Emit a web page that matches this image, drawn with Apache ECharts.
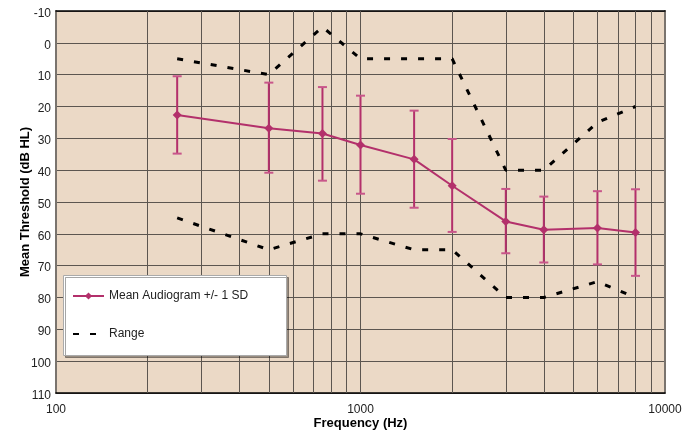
<!DOCTYPE html>
<html>
<head>
<meta charset="utf-8">
<script src="https://cdn.jsdelivr.net/npm/echarts@6/dist/echarts.min.js"></script>
<style>html,body{margin:0;padding:0;background:#fff}#c{width:696px;height:431px}</style>
</head>
<body>
<div id="c"></div>
<script>
// Data
const frequencies = [250, 500, 750, 1000, 1500, 2000, 3000, 4000, 6000, 8000];
const meanThreshold = [22.7, 26.8, 28.5, 32.1, 36.6, 44.9, 56.1, 58.7, 58.2, 59.6];
const sdUpperEdge = [10.5, 12.5, 13.9, 16.6, 21.3, 30.2, 45.9, 48.3, 46.6, 46.0];
const sdLowerEdge = [34.8, 40.8, 43.3, 47.4, 51.8, 59.4, 66.1, 69.0, 69.6, 73.2];
const rangeBest = [5, 10, -5, 5, 5, 5, 40, 40, 25, 20];
const rangeWorst = [55, 65, 60, 60, 65, 65, 80, 80, 75, 80];
const gridFrequencies = [200, 300, 400, 500, 600, 700, 800, 900, 1000, 2000, 3000, 4000, 5000, 6000, 7000, 8000, 9000];
const seriesNames = ['Mean Audiogram +/- 1 SD', 'Range'];

const FONT = "'Liberation Sans', Arial, sans-serif";
const MEAN_COLOR = '#b3306b';
const CAP_COLOR = '#c8568a';
const GRID_COLOR = '#5c5650';

const meanData = frequencies.map((f, i) => [f, meanThreshold[i]]);
const errData = frequencies.map((f, i) => [f, sdUpperEdge[i], sdLowerEdge[i]]);
const bestData = frequencies.map((f, i) => [f, rangeBest[i]]);
const worstData = frequencies.map((f, i) => [f, rangeWorst[i]]);

const chart = echarts.init(document.getElementById('c'), null, {renderer: 'canvas'});
chart.setOption({
  animation: false,
  backgroundColor: '#ffffff',
  textStyle: {fontFamily: FONT},
  grid: {left: 56, top: 11, right: 31, bottom: 38, show: true, backgroundColor: '#ebd9c6', borderWidth: 0, outerBoundsMode: 'none', containLabel: false},
  xAxis: [{
    type: 'log', logBase: 10, min: 100, max: 10000,
    axisLine: {show: true, onZero: false, lineStyle: {color: '#000', width: 1.5}},
    axisTick: {show: false},
    splitLine: {show: false},
    axisLabel: {color: '#222', fontSize: 12, fontFamily: FONT, margin: 11, formatter: v => String(Math.round(v))},
    name: 'Frequency (Hz)', nameLocation: 'middle', nameGap: 24, nameMoveOverlap: false,
    nameTextStyle: {color: '#000', fontSize: 13, fontWeight: 'bold', fontFamily: FONT}
  }, {
    type: 'log', logBase: 10, min: 100, max: 10000, position: 'top',
    axisLine: {show: true, onZero: false, lineStyle: {color: '#000', width: 1.5}},
    axisTick: {show: false}, axisLabel: {show: false}, splitLine: {show: false}
  }],
  yAxis: [{
    type: 'value', inverse: true, min: -10, max: 110, interval: 10,
    axisLine: {show: true, onZero: false, lineStyle: {color: '#7a746e', width: 2}},
    axisTick: {show: false},
    splitLine: {show: true, lineStyle: {color: GRID_COLOR, width: 1}},
    axisLabel: {color: '#222', fontSize: 12, fontFamily: FONT, margin: 5, verticalAlign: 'top', lineHeight: 5},
    name: 'Mean Threshold (dB HL)', nameLocation: 'middle', nameGap: 24, nameMoveOverlap: false,
    nameTextStyle: {color: '#000', fontSize: 13, fontWeight: 'bold', fontFamily: FONT}
  }, {
    type: 'value', inverse: true, min: -10, max: 110, interval: 10, position: 'right',
    axisLine: {show: true, onZero: false, lineStyle: {color: '#7a746e', width: 2}},
    axisTick: {show: false}, axisLabel: {show: false}, splitLine: {show: false}
  }],
  legend: {
    data: [seriesNames[0], {name: seriesNames[1], itemStyle: {color: 'rgba(0,0,0,0)', borderWidth: 0}}],
    orient: 'vertical', left: 72, top: 290, padding: 0,
    itemWidth: 31, itemHeight: 9, itemGap: 26,
    textStyle: {color: '#222', fontSize: 12, fontFamily: FONT},
    zlevel: 2, z: 200, selectedMode: false
  },
  graphic: {
    zlevel: 2,
    elements: [{
      type: 'rect', left: 63, top: 275, z: 100,
      shape: {width: 223, height: 80},
      style: {fill: '#fff', stroke: '#aaa', lineWidth: 1, shadowColor: 'rgba(0,0,0,0.35)', shadowOffsetX: 2, shadowOffsetY: 2, shadowBlur: 0}
    }]
  },
  series: [{
    type: 'line', name: 'gridlines', data: [], z: 1, silent: true,
    markLine: {
      silent: true, symbol: 'none', label: {show: false}, z: 1,
      lineStyle: {color: GRID_COLOR, width: 1, type: 'solid'},
      data: gridFrequencies.map(f => ({xAxis: f}))
    }
  }, {
    type: 'line', name: 'Range', data: bestData, symbol: 'none', zlevel: 1, z: 9,
    lineStyle: {color: '#000', width: 3, type: [6, 11]},
    itemStyle: {color: '#000'}
  }, {
    type: 'line', name: 'Range', data: worstData, symbol: 'none', zlevel: 1, z: 9,
    lineStyle: {color: '#000', width: 3, type: [6, 11]},
    itemStyle: {color: '#000'}
  }, {
    type: 'custom', name: 'sd', data: errData, zlevel: 1, z: 10,
    encode: {x: 0, y: [1, 2]},
    renderItem: function (params, api) {
      const x = api.value(0);
      const a = api.coord([x, api.value(1)]);
      const b = api.coord([x, api.value(2)]);
      const w = 4.5;
      return {type: 'group', children: [
        {type: 'line', shape: {x1: a[0], y1: a[1], x2: b[0], y2: b[1]}, style: {stroke: MEAN_COLOR, lineWidth: 2}},
        {type: 'line', shape: {x1: a[0] - w, y1: a[1], x2: a[0] + w, y2: a[1]}, style: {stroke: CAP_COLOR, lineWidth: 2}},
        {type: 'line', shape: {x1: b[0] - w, y1: b[1], x2: b[0] + w, y2: b[1]}, style: {stroke: CAP_COLOR, lineWidth: 2}}
      ]};
    }
  }, {
    type: 'line', name: 'Mean Audiogram +/- 1 SD', data: meanData, zlevel: 1, z: 11,
    symbol: 'diamond', symbolSize: 9,
    lineStyle: {color: MEAN_COLOR, width: 2},
    itemStyle: {color: MEAN_COLOR}
  }]
});
</script>
</body>
</html>
